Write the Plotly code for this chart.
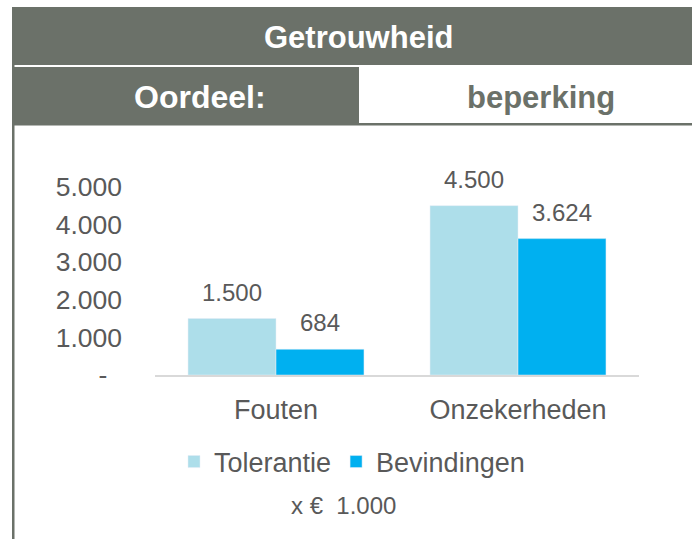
import plotly.graph_objects as go

categories = ["Fouten", "Onzekerheden"]
tolerantie = [1500, 4500]
bevindingen = [684, 3624]
tick_vals = [0, 1000, 2000, 3000, 4000, 5000]
tick_text = ["-\u00a0\u00a0", "1.000", "2.000", "3.000", "4.000", "5.000"]
title_text = "Getrouwheid"
oordeel_label = "Oordeel:"
oordeel_value = "beperking"
unit_text = "x €\u00a0\u00a01.000"

W, Hh = 692, 539
L, R, T, B = 155, 53, 168, 164
PW, PH = W - L - R, Hh - T - B
HEAD = "#6b7169"
TXT = "#595959"
FONT = "Liberation Sans, Arial, sans-serif"


def px(x):
    return (x - L) / PW


def py(y):
    return (Hh - B - y) / PH


def fmt(v):
    return f"{v:,}".replace(",", ".")


fig = go.Figure()
fig.add_bar(name="Tolerantie", x=categories, y=tolerantie, marker_color="#addeea")
fig.add_bar(name="Bevindingen", x=categories, y=bevindingen, marker_color="#00b0f0")

annotations = []
for vals, shift in ((tolerantie, -44), (bevindingen, 44)):
    for c, v in zip(categories, vals):
        annotations.append(dict(x=c, y=v, xref="x", yref="y", text=fmt(v), showarrow=False,
                                xshift=shift, yshift=11, xanchor="center", yanchor="bottom",
                                font=dict(size=24, color=TXT, family=FONT)))

annotations += [
    dict(x=px(358), y=py(37), xref="paper", yref="paper", text=f"<b>{title_text}</b>",
         showarrow=False, xanchor="center", yanchor="middle",
         font=dict(size=31, color="white", family=FONT)),
    dict(x=px(200), y=py(97), xref="paper", yref="paper", text=f"<b>{oordeel_label}</b>",
         showarrow=False, xanchor="center", yanchor="middle",
         font=dict(size=32, color="white", family=FONT)),
    dict(x=px(541), y=py(97), xref="paper", yref="paper", text=f"<b>{oordeel_value}</b>",
         showarrow=False, xanchor="center", yanchor="middle",
         font=dict(size=31, color=HEAD, family=FONT)),
    dict(x=px(343), y=py(505), xref="paper", yref="paper", text=unit_text,
         showarrow=False, xanchor="center", yanchor="middle",
         font=dict(size=24, color=TXT, family=FONT)),
]

shapes = [
    dict(type="rect", xref="paper", yref="paper", x0=px(12), x1=px(692), y0=py(7), y1=py(65),
         fillcolor=HEAD, line_width=0, layer="below"),
    dict(type="rect", xref="paper", yref="paper", x0=px(12), x1=px(359), y0=py(67), y1=py(124),
         fillcolor=HEAD, line_width=0, layer="below"),
    dict(type="rect", xref="paper", yref="paper", x0=px(12), x1=px(692), y0=py(123), y1=py(125.5),
         fillcolor=HEAD, line_width=0, layer="below"),
    dict(type="rect", xref="paper", yref="paper", x0=px(12), x1=px(14.5), y0=py(7), y1=py(539),
         fillcolor=HEAD, line_width=0, layer="below"),
]

fig.update_layout(
    width=W, height=Hh,
    margin=dict(l=L, r=R, t=T, b=B, pad=0),
    paper_bgcolor="white", plot_bgcolor="white",
    barmode="group", bargap=0.273, bargroupgap=0,
    font=dict(family=FONT, color=TXT, size=26),
    showlegend=True,
    legend=dict(orientation="h", x=px(352), xanchor="center", y=py(462), yanchor="middle",
                font=dict(size=27, color=TXT, family=FONT), itemwidth=30, traceorder="normal",
                bgcolor="rgba(0,0,0,0)"),
    annotations=annotations,
    shapes=shapes,
)
fig.update_xaxes(showgrid=False, showline=True, linecolor="#d9d9d9", linewidth=2,
                 tickfont=dict(size=27, color=TXT), ticks="", ticklabelstandoff=10)
fig.update_yaxes(range=[0, 5500], tickvals=tick_vals, ticktext=tick_text, showgrid=False,
                 zeroline=False, showline=False, ticks="", tickfont=dict(size=26.5, color=TXT),
                 ticklabelstandoff=32)

fig.write_html("out.html", config={"displayModeBar": False},
               post_script="document.body.style.margin='0';")
